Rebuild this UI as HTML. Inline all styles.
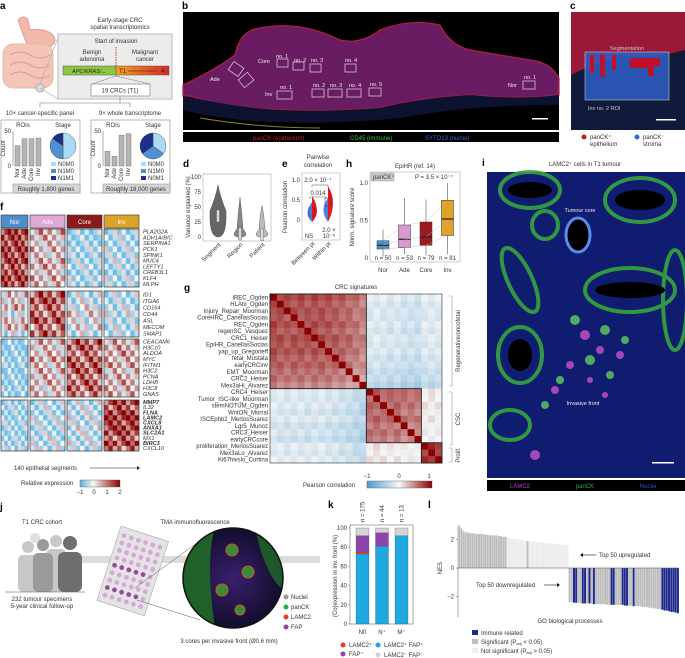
<!DOCTYPE html>
<html><head><meta charset="utf-8">
<style>
html,body{margin:0;padding:0;background:#fff;}
svg{display:block;font-family:"Liberation Sans",Arial,sans-serif;}
.t{font-size:6px;fill:#333}
.lbl{font-size:10px;font-weight:bold;fill:#000}
.g{font-size:5.6px;font-style:italic;fill:#333}
</style></head>
<body>
<svg id="fig" width="685" height="658" viewBox="0 0 685 658">
<defs>
<linearGradient id="tgrad" x1="0" x2="1"><stop offset="0" stop-color="#f7a21b"/><stop offset="1" stop-color="#d7262b"/></linearGradient>
<linearGradient id="cb" x1="0" x2="1"><stop offset="0" stop-color="#4a9bd0"/><stop offset="0.5" stop-color="#f7f7f7"/><stop offset="1" stop-color="#8b0000"/></linearGradient>
<linearGradient id="cbf" x1="0" x2="1"><stop offset="0" stop-color="#5fb0de"/><stop offset="0.33" stop-color="#f5f5f5"/><stop offset="1" stop-color="#8b0000"/></linearGradient>
<radialGradient id="tis" cx="0.5" cy="0.5" r="0.6"><stop offset="0" stop-color="#3a1f6e"/><stop offset="1" stop-color="#0a0a20"/></radialGradient>
<clipPath id="circ"><circle cx="233" cy="578" r="50"/></clipPath>
</defs>

<!-- ===== Panel a ===== -->
<g>
<text class="lbl" x="0" y="9">a</text>
<g>
<path d="M18 20 q6 -6 10 0 l2 10 q14 -2 22 4 q8 10 -6 14 q-14 2 -20 -6 z" fill="#f2b9a9" stroke="#d99"/>
<rect x="3" y="44" width="50" height="44" rx="10" fill="#f5c6b8" stroke="#dba"/>
<path d="M10 55 q10 -6 20 0 t20 0 M10 65 q10 -6 20 0 t20 0 M10 75 q10 -6 20 0 t20 0" stroke="#d9968a" fill="none"/>
<circle cx="40" cy="88" r="4" fill="#ddd" stroke="#aaa"/>
</g>
<text class="t" x="120" y="22" text-anchor="middle">Early-stage CRC</text>
<text class="t" x="120" y="29" text-anchor="middle">spatial transcriptomics</text>
<rect x="58" y="34" width="114" height="65" fill="#ececec" stroke="#bbb"/>
<line x1="40" y1="88" x2="58" y2="99" stroke="#aaa" stroke-width="0.6"/>
<line x1="40" y1="84" x2="58" y2="38" stroke="#aaa" stroke-width="0.6"/>
<text class="t" x="116" y="43" text-anchor="middle">Start of invasion</text>
<line x1="116" y1="47" x2="116" y2="66" stroke="#e33" stroke-dasharray="1.5,1"/>
<text class="t" x="92" y="54" text-anchor="middle">Benign</text>
<text class="t" x="92" y="61" text-anchor="middle">adenoma</text>
<text class="t" x="145" y="54" text-anchor="middle">Malignant</text>
<text class="t" x="145" y="61" text-anchor="middle">cancer</text>
<rect x="63" y="66" width="53" height="9" fill="#8dc63f" stroke="#555" stroke-width="0.5"/>
<text x="89" y="73" font-size="5.5" font-style="italic" text-anchor="middle" fill="#222">APC/KRAS/...</text>
<rect x="116" y="66" width="53" height="9" fill="url(#tgrad)" stroke="#555" stroke-width="0.5"/>
<text x="119" y="73" font-size="6" fill="#222">T1</text>
<line x1="128" y1="71" x2="157" y2="71" stroke="#222" stroke-width="0.6"/>
<text x="161" y="73" font-size="6" fill="#222">4</text>
<line x1="116" y1="76" x2="92" y2="84" stroke="#333" stroke-dasharray="1.5,1" stroke-width="0.5"/>
<line x1="116" y1="76" x2="150" y2="84" stroke="#333" stroke-dasharray="1.5,1" stroke-width="0.5"/>
<rect x="91" y="84" width="59" height="12" fill="#fff" stroke="#777" stroke-width="0.6"/>
<text class="t" x="120" y="92.5" text-anchor="middle">19 CRCs (T1)</text>
<path d="M120 96 V103 M40 107 V103 H130 V107" stroke="#777" fill="none" stroke-width="0.6"/>
<text class="t" x="40" y="115" text-anchor="middle">10× cancer-specific panel</text>
<text class="t" x="130" y="115" text-anchor="middle">9× whole transcriptome</text>
<rect x="1" y="120" width="79" height="73" fill="#fff" stroke="#888" stroke-width="0.6"/>
<rect x="13" y="184" width="67" height="9" fill="#d6d6d6" stroke="#888" stroke-width="0.5"/>
<text class="t" x="46" y="191" text-anchor="middle">Roughly 1,800 genes</text>
<rect x="91" y="120" width="79" height="73" fill="#fff" stroke="#888" stroke-width="0.6"/>
<rect x="103" y="184" width="67" height="9" fill="#d6d6d6" stroke="#888" stroke-width="0.5"/>
<text class="t" x="136" y="191" text-anchor="middle">Roughly 18,000 genes</text>
<g id="aBars"></g>
</g>

<!-- ===== Panel b ===== -->
<g>
<text class="lbl" x="182" y="9">b</text>
<rect x="183" y="12" width="376" height="118" fill="#000"/>
<path d="M183 85 Q215 70 235 55 Q240 30 260 28 Q300 20 340 40 Q360 45 380 30 Q410 18 440 25 Q450 45 470 50 Q500 55 530 60 Q550 62 559 78 L559 95 Q520 100 470 95 Q420 98 380 108 Q330 112 280 110 Q240 108 200 100 Q190 95 183 96 Z" fill="#6a1c62" stroke="#b02040" stroke-width="1.2"/>
<path d="M183 96 Q240 108 280 110 Q330 112 380 108 Q420 98 470 95 Q520 100 559 95 L559 105 Q470 105 400 118 Q320 126 240 120 Q200 115 183 110 Z" fill="#0c1230"/>
<path d="M200 118 Q260 128 320 128" stroke="#8a8a20" stroke-width="1" fill="none"/>
<g stroke="#ddd" stroke-width="0.7" fill="none">
<rect x="277" y="59" width="11" height="8"/><rect x="293" y="62" width="11" height="8"/><rect x="310" y="64" width="11" height="8"/><rect x="345" y="64" width="11" height="8"/>
<rect x="277" y="91" width="15" height="8"/><rect x="312" y="89" width="12" height="8"/><rect x="328" y="89" width="14" height="8"/><rect x="347" y="89" width="14" height="8"/><rect x="369" y="88" width="12" height="8"/>
<rect x="523" y="81" width="12" height="8"/>
<rect x="230" y="64" width="12" height="10" transform="rotate(35 236 69)"/>
<rect x="240" y="75" width="12" height="10" transform="rotate(-40 246 80)"/>
</g>
<g font-size="5.5" fill="#eee">
<text x="258" y="63">Core</text><text x="276" y="58">no. 1</text><text x="294" y="62">no. 2</text><text x="311" y="62">no. 3</text><text x="345" y="62">no. 4</text>
<text x="210" y="81">Ade</text><text x="265" y="96">Inv</text><text x="280" y="89">no. 1</text><text x="313" y="87">no. 2</text><text x="330" y="87">no. 3</text><text x="349" y="87">no. 4</text><text x="370" y="86">no. 5</text>
<text x="508" y="87">Nor</text><text x="524" y="79">no. 1</text>
</g>
<rect x="532" y="118" width="16" height="1.5" fill="#fff"/>
<rect x="183" y="132" width="376" height="10" fill="#000"/>
<text x="253" y="140" font-size="6" fill="#d01c1c">panCK (epithelium)</text>
<text x="350" y="140" font-size="6" fill="#3fbf3f">CD45 (immune)</text>
<text x="425" y="140" font-size="6" fill="#3b6bd6">SYTO13 (nuclei)</text>
</g>

<!-- ===== Panel c ===== -->
<g>
<text class="lbl" x="570" y="9">c</text>
<rect x="571" y="12" width="114" height="118" fill="#101a3a"/>
<path d="M571 12 H685 V50 Q650 60 620 55 Q590 65 571 75 Z" fill="#9a1838"/>
<rect x="585" y="52" width="84" height="48" fill="#2f5fc8" opacity="0.85" stroke="#ddd" stroke-width="0.6"/>
<path d="M590 55 h4 v18 h-4z M600 55 h5 v22 h-5z M612 55 h4 v15 h-4z M630 58 h30 v8 h-6 v10 h-6 v-8 h-18z M640 58 h3 v6" fill="#c0102a"/>
<text x="627" y="50" font-size="5.5" fill="#ccc" text-anchor="middle">Segmentation</text>
<text x="588" y="110" font-size="5.5" fill="#ccc">Inv no. 2 ROI</text>
<rect x="656" y="119" width="20" height="1.5" fill="#fff"/>
<circle cx="584" cy="137" r="2.5" fill="#d01c1c"/><text class="t" x="590" y="139">panCK⁺</text><text class="t" x="590" y="146">epithelium</text>
<circle cx="637" cy="137" r="2.5" fill="#2f6ce0"/><text class="t" x="643" y="139">panCK⁻</text><text class="t" x="643" y="146">stroma</text>
</g>

<!-- ===== Panel d, e, h ===== -->
<g id="panelD">
<text class="lbl" x="183" y="167">d</text>
</g>
<g id="panelE">
<text class="lbl" x="282" y="167">e</text>
<text class="t" x="318" y="159" text-anchor="middle">Pairwise</text>
<text class="t" x="318" y="167" text-anchor="middle">correlation</text>
</g>
<g id="panelH">
<text class="lbl" x="346" y="167">h</text>
<text class="t" x="415" y="168" text-anchor="middle">EpiHR (ref. 14)</text>
</g>

<!-- ===== Panel f ===== -->
<g id="panelF">
<text class="lbl" x="0" y="210">f</text>
<text class="t" x="14" y="470">140 epithelial segments</text>
<line x1="90" y1="468" x2="137" y2="468" stroke="#222" stroke-width="0.6"/><path d="M137 466 l3 2 l-3 2z" fill="#222"/>
<text class="t" x="21" y="485">Relative expression</text>
<rect x="80" y="480" width="40" height="7" fill="url(#cbf)" stroke="#555" stroke-width="0.4"/>
<text class="t" x="80" y="494" text-anchor="middle">−1</text><text class="t" x="94" y="494" text-anchor="middle">0</text><text class="t" x="107" y="494" text-anchor="middle">1</text><text class="t" x="120" y="494" text-anchor="middle">2</text>
</g>

<!-- ===== Panel g ===== -->
<g id="panelG">
<text class="lbl" x="184" y="291">g</text>
<text class="t" x="356" y="289" text-anchor="middle">CRC signatures</text>
<text class="t" x="303" y="487">Pearson correlation</text>
<rect x="367" y="481" width="65" height="7" fill="url(#cb)" stroke="#555" stroke-width="0.4"/>
<text class="t" x="367" y="478" text-anchor="middle">−1</text><text class="t" x="399" y="478" text-anchor="middle">0</text><text class="t" x="429" y="478" text-anchor="middle">1</text>
<path d="M449 296 h3 V386 h-3 M449 392 h3 V445 h-3 M449 448 h3 V462 h-3" stroke="#999" fill="none" stroke-width="0.6"/>
<text class="t" transform="translate(460 341) rotate(-90)" text-anchor="middle">Regenerative/oncofetal</text>
<text class="t" transform="translate(460 419) rotate(-90)" text-anchor="middle">CSC</text>
<text class="t" transform="translate(460 455) rotate(-90)" text-anchor="middle">Prolif.</text>
</g>

<!-- ===== Panel i ===== -->
<g>
<text class="lbl" x="482" y="166">i</text>
<text class="t" x="585" y="166" text-anchor="middle">LAMC2⁺ cells in T1 tumour</text>
<rect x="487" y="172" width="198" height="306" fill="#0f1c70"/>
<g fill="none" stroke="#36a53e" stroke-width="4" opacity="0.9">
<ellipse cx="530" cy="190" rx="30" ry="18"/><ellipse cx="640" cy="200" rx="35" ry="22"/><ellipse cx="545" cy="225" rx="13" ry="14"/>
<ellipse cx="520" cy="280" rx="12" ry="35" transform="rotate(-25 520 280)"/><ellipse cx="630" cy="290" rx="45" ry="22"/>
<ellipse cx="520" cy="355" rx="22" ry="28"/><ellipse cx="675" cy="300" rx="12" ry="50"/><ellipse cx="510" cy="425" rx="20" ry="15"/>
</g>
<ellipse cx="578" cy="235" rx="12" ry="17" fill="#000" stroke="#5a8cf0" stroke-width="3"/>
<g fill="#000"><ellipse cx="530" cy="190" rx="22" ry="8"/><ellipse cx="640" cy="200" rx="25" ry="10"/><ellipse cx="630" cy="290" rx="35" ry="8"/><ellipse cx="520" cy="355" rx="12" ry="16"/></g>
<g fill="#c050c0" opacity="0.85">
<circle cx="585" cy="335" r="5"/><circle cx="600" cy="350" r="4"/><circle cx="570" cy="365" r="4"/><circle cx="555" cy="390" r="4"/><circle cx="590" cy="380" r="3"/><circle cx="620" cy="355" r="4"/><circle cx="535" cy="455" r="5"/><circle cx="605" cy="395" r="3"/>
</g>
<g fill="#5fcf5f" opacity="0.8">
<circle cx="575" cy="320" r="5"/><circle cx="605" cy="330" r="5"/><circle cx="625" cy="340" r="4"/><circle cx="590" cy="360" r="5"/><circle cx="560" cy="380" r="4"/><circle cx="610" cy="375" r="4"/><circle cx="545" cy="405" r="4"/>
</g>
<text x="580" y="212" font-size="5.5" fill="#eee" text-anchor="middle">Tumour core</text>
<text x="583" y="405" font-size="5.5" fill="#eee" text-anchor="middle">Invasive front</text>
<rect x="652" y="462" width="22" height="1.5" fill="#fff"/>
<rect x="487" y="480" width="198" height="11" fill="#000"/>
<text x="520" y="488" font-size="6" fill="#c040c0" text-anchor="middle">LAMC2</text>
<text x="585" y="488" font-size="6" fill="#30b050" text-anchor="middle">panCK</text>
<text x="648" y="488" font-size="6" fill="#3050c0" text-anchor="middle">Nuclei</text>
</g>

<!-- ===== Panel j ===== -->
<g>
<text class="lbl" x="0" y="510">j</text>
<text class="t" x="42" y="524" text-anchor="middle">T1 CRC cohort</text>
<text class="t" x="195" y="524" text-anchor="middle">TMA immunofluorescence</text>
<rect x="80" y="556" width="240" height="7" fill="#dcdcdc"/>
<g>
<g fill="#c8c8c8"><circle cx="28" cy="547" r="6"/><rect x="18" y="555" width="20" height="37" rx="5"/><circle cx="56" cy="541" r="6"/><rect x="46" y="549" width="20" height="43" rx="5"/></g>
<g fill="#e0e0e0"><circle cx="35" cy="538" r="5"/></g>
<g fill="#9a9a9a"><circle cx="43" cy="545" r="6"/><rect x="33" y="553" width="20" height="39" rx="5"/></g>
<g fill="#6e6e6e"><circle cx="70" cy="543" r="7"/><rect x="58" y="552" width="24" height="40" rx="6"/></g>
<line x1="5" y1="592" x2="85" y2="592" stroke="#555" stroke-width="0.6"/>
</g>
<text class="t" x="42" y="601" text-anchor="middle">232 tumour specimens</text>
<text class="t" x="42" y="608" text-anchor="middle">5-year clinical follow-up</text>
<g transform="rotate(18 133 570)">
<rect x="108" y="532" width="50" height="78" fill="#e4e4e4" stroke="#999" stroke-width="0.5"/>
<g id="tmaDots"></g>
</g>
<line x1="135" y1="588" x2="197" y2="543" stroke="#555" stroke-width="0.5"/>
<line x1="137" y1="600" x2="200" y2="620" stroke="#555" stroke-width="0.5"/>
<g clip-path="url(#circ)">
<rect x="183" y="528" width="100" height="100" fill="url(#tis)"/>
<path d="M183 528 H215 Q205 560 215 628 H183 Z" fill="#1f6a28" opacity="0.9"/>
<path d="M255 528 H283 V590 Q265 575 255 528Z" fill="#1f6a28" opacity="0.8"/>
<g fill="#3a8a3a" stroke="#d05a20" stroke-width="1"><circle cx="232" cy="550" r="6"/><circle cx="248" cy="572" r="6"/><circle cx="222" cy="590" r="6"/><circle cx="240" cy="610" r="5"/></g>
</g>
<circle cx="233" cy="578" r="50" fill="none" stroke="#111" stroke-width="1.5"/>
<text class="t" x="229" y="643" text-anchor="middle">3 cores per invasive front (Ø0.6 mm)</text>
<circle cx="286" cy="597" r="2.5" fill="#999"/><text class="t" x="291" y="599">Nuclei</text>
<circle cx="286" cy="607" r="2.5" fill="#22b34a"/><text class="t" x="291" y="609">panCK</text>
<circle cx="286" cy="617" r="2.5" fill="#e8392b"/><text class="t" x="291" y="619">LAMC2</text>
<circle cx="286" cy="627" r="2.5" fill="#8e44ad"/><text class="t" x="291" y="629">FAP</text>
</g>

<!-- ===== Panel k ===== -->
<g id="panelK">
<text class="lbl" x="328" y="508">k</text>
<circle cx="343" cy="645" r="2.5" fill="#e8392b"/><text class="t" x="349" y="647">LAMC2⁺</text>
<circle cx="343" cy="654" r="2.5" fill="#8e44ad"/><text class="t" x="349" y="656">FAP⁺</text>
<circle cx="378" cy="645" r="2.5" fill="#1fa8e0"/><text class="t" x="384" y="647">LAMC2⁺ FAP⁺</text>
<circle cx="378" cy="655" r="2.5" fill="#d4d4d4"/><text class="t" x="384" y="657">LAMC2⁻ FAP⁻</text>
</g>

<!-- ===== Panel l ===== -->
<g id="panelL">
<text class="lbl" x="428" y="508">l</text>
<text class="t" transform="translate(442 568) rotate(-90)" text-anchor="middle">NES</text>
<text class="t" x="599" y="557">Top 50 upregulated</text>
<line x1="583" y1="555" x2="596" y2="555" stroke="#111" stroke-width="0.6"/><path d="M583 553 l-3 2 l3 2z" fill="#111"/>
<text class="t" x="476" y="587">Top 50 downregulated</text>
<line x1="544" y1="585" x2="557" y2="585" stroke="#111" stroke-width="0.6"/><path d="M557 583 l3 2 l-3 2z" fill="#111"/>
<text class="t" x="570" y="623" text-anchor="middle">GO biological processes</text>
<rect x="472" y="630" width="6" height="5" fill="#1f2a8c"/><text class="t" x="481" y="635">Immune related</text>
<rect x="472" y="639" width="6" height="5" fill="#bdbdbd"/><text class="t" x="481" y="644">Significant (P<tspan font-size="4" dy="1">adj</tspan><tspan dy="-1"> &lt; 0.05)</tspan></text>
<rect x="472" y="648" width="6" height="5" fill="#eeeeee"/><text class="t" x="481" y="653">Not significant (P<tspan font-size="4" dy="1">adj</tspan><tspan dy="-1"> &gt; 0.05)</tspan></text>
</g>
</svg>

<script>
const NS='http://www.w3.org/2000/svg';
function mk(parent,tag,attrs,txt){const e=document.createElementNS(NS,tag);for(const k in attrs)e.setAttribute(k,attrs[k]);if(txt!==undefined)e.textContent=txt;parent.appendChild(e);return e;}

/* ---------- panel a data ---------- */
const aCats=['Nor','Ade','Core','Inv'];
const aLeftCounts=[29,39,39,40];
const aRightCounts=[21,14,44,46];
const aLeftStage=[50,35,15];
const aRightStage=[35,30,35];
const aStageLabels=[['N0M0','N1M0','N1M1'],['N0M0','N1M0','N0M1']];
const pieColors=['#a8dcf5','#4f8fd3','#1e2f8a'];
(function(){
 const g=document.getElementById('aBars');
 function sub(x0,counts,stage,labels){
  const base=166,top=131,yS=v=>base-(v/50)*(base-top);
  mk(g,'text',{class:'t',x:x0+22,y:127,'text-anchor':'middle'},'ROIs');
  mk(g,'text',{class:'t',x:x0+62,y:127,'text-anchor':'middle'},'Stage');
  mk(g,'line',{x1:x0+12,y1:top,x2:x0+12,y2:base,stroke:'#555','stroke-width':0.5});
  mk(g,'text',{class:'t',x:x0+10,y:top+2,'text-anchor':'end'},'50');
  mk(g,'text',{class:'t',x:x0+10,y:base+2,'text-anchor':'end'},'0');
  mk(g,'text',{class:'t',transform:`translate(${x0+4} ${(top+base)/2}) rotate(-90)`,'text-anchor':'middle'},'Count');
  counts.forEach((c,i)=>{
   const r=mk(g,'rect',{x:x0+14+i*7,y:yS(c),width:5,height:base-yS(c),fill:'#b5b5b5',stroke:'#666','stroke-width':0.4});
   
   
   mk(g,'text',{class:'t',transform:`translate(${x0+18+i*7} ${base+2}) rotate(-90)`,'text-anchor':'end'},aCats[i]);
  });
  let a0=-Math.PI/2;const cx=x0+62,cy=146,R=13,tot=stage.reduce((s,v)=>s+v,0);
  stage.forEach((v,i)=>{const a1=a0+v/tot*2*Math.PI;
   const p=mk(g,'path',{d:`M${cx} ${cy} L${cx+R*Math.cos(a0)} ${cy+R*Math.sin(a0)} A${R} ${R} 0 ${a1-a0>Math.PI?1:0} 1 ${cx+R*Math.cos(a1)} ${cy+R*Math.sin(a1)} Z`,fill:pieColors[i],stroke:'#444','stroke-width':0.4});
   
   
   a0=a1;
   mk(g,'rect',{x:x0+50,y:162+i*7,width:5,height:4,fill:pieColors[i]});
   mk(g,'text',{class:'t',x:x0+57,y:166+i*7},labels[i]);
  });
 }
 sub(1,aLeftCounts,aLeftStage,aStageLabels[0]);
 sub(91,aRightCounts,aRightStage,aStageLabels[1]);
})();

/* ---------- TMA dots ---------- */
(function(){const g=document.getElementById('tmaDots');
 for(let r=0;r<9;r++)for(let c=0;c<6;c++){const d=mk(g,'circle',{cx:114+c*7.5,cy:540+r*7.8,r:2.4,fill:(r==4||r==7)&&c<5?'#9b4a9b':'#d8a6d8'});
  
  }
})();

/* ---------- panel d ---------- */
const dCats=['Segment','Region','Patient'];
const dMedians=[35,5,4];
const dMax=[87,66,52];
(function(){const g=document.getElementById('panelD');
 const x0=203,x1=271,y0=241,yT=174,yS=v=>237-(v/100)*(237-177);
 mk(g,'rect',{x:x0,y:yT,width:x1-x0,height:y0-yT,fill:'none',stroke:'#999','stroke-width':0.5});
 [0,25,50,75,100].forEach(t=>mk(g,'text',{class:'t',x:x0-2,y:yS(t)+2,'text-anchor':'end'},t));
 mk(g,'text',{class:'t',transform:`translate(190 207) rotate(-90)`,'text-anchor':'middle'},'Variance explained (%)');
 dCats.forEach((c,i)=>{const cx=218+i*22,m=yS(dMedians[i]),top=yS(dMax[i]),b=yS(0);
  const w=i==0?9:10;
  const p=mk(g,'path',{d:`M${cx} ${top} Q${cx+2} ${m-20} ${cx+(i==0?8:3)} ${m-5} Q${cx+w} ${b} ${cx} ${b} Q${cx-w} ${b} ${cx-(i==0?8:3)} ${m-5} Q${cx-2} ${m-20} ${cx} ${top}Z`,fill:i==0?'#666':(i==1?'#888':'#bbb'),stroke:'#444','stroke-width':0.4});
  
  
  mk(g,'rect',{x:cx-1.5,y:m-6,width:3,height:12,fill:'#ddd',stroke:'#333','stroke-width':0.3});
  mk(g,'text',{class:'t',transform:`translate(${cx+3} ${y0+4}) rotate(-45)`,'text-anchor':'end'},c);
 });
})();

/* ---------- panel e ---------- */
const eCats=['Between pt','Within pt'];
const eMedBlue=[0.15,0.25];
const eMedRed=[0.2,0.45];
(function(){const g=document.getElementById('panelE');
 const x0=302,x1=340,yT=173,yB=240,yS=v=>220-v*40;
 mk(g,'rect',{x:x0,y:yT,width:x1-x0,height:yB-yT,fill:'none',stroke:'#999','stroke-width':0.5});
 [[0,'0'],[0.5,'0.5'],[1,'1.0']].forEach(t=>mk(g,'text',{class:'t',x:x0-2,y:yS(t[0])+2,'text-anchor':'end'},t[1]));
 mk(g,'text',{class:'t',transform:`translate(287 207) rotate(-90)`,'text-anchor':'middle'},'Pearson correlation');
 eCats.forEach((c,i)=>{const cx=312+i*16;
  const pb=mk(g,'path',{d:`M${cx} ${yS(eMedBlue[i]+0.3)} Q${cx-9} ${yS(eMedBlue[i])} ${cx} ${yS(-0.05)}Z`,fill:'#4a7fe0'});
  
  
  const pr=mk(g,'path',{d:`M${cx} ${yS(eMedRed[i]+0.4)} Q${cx+10} ${yS(eMedRed[i])} ${cx} ${yS(-0.05)}Z`,fill:'#e8141e'});
  
  
  mk(g,'rect',{x:cx-3,y:yS(eMedRed[i]+0.1),width:6,height:yS(0)-yS(0.2),fill:'none',stroke:'#333','stroke-width':0.4});
  mk(g,'text',{class:'t',transform:`translate(${cx+3} ${yB+4}) rotate(-45)`,'text-anchor':'end'},c);
 });
 mk(g,'text',{class:'t',x:309,y:238,'text-anchor':'middle'},'NS');
 mk(g,'text',{class:'t',x:329,y:232,'text-anchor':'middle'},'2.0 ×');
 mk(g,'text',{class:'t',x:329,y:238,'text-anchor':'middle'},'10⁻⁵');
 mk(g,'text',{class:'t',x:318,y:182,'text-anchor':'middle'},'2.0 × 10⁻⁷');
 mk(g,'path',{d:'M312 187 V185 H328 V187',fill:'none',stroke:'#333','stroke-width':0.4});
 mk(g,'text',{class:'t',x:318,y:195,'text-anchor':'middle'},'0.014');
 mk(g,'path',{d:'M310 199 V197 H326 V199',fill:'none',stroke:'#333','stroke-width':0.4});
})();

/* ---------- panel h ---------- */
const hCats=['Nor','Ade','Core','Inv'];
const hN=[50,53,79,81];
const hQ1=[0.12,0.14,0.17,0.3];
const hMed=[0.17,0.25,0.28,0.52];
const hQ3=[0.23,0.44,0.48,0.77];
const hMin=[0.02,0.05,0.03,0.05];
const hMax=[0.38,0.8,0.78,1.0];
const hColors=['#4f8fc7','#d99ad0','#9c1b20','#e0a32a'];
(function(){const g=document.getElementById('panelH');
 const x0=370,x1=460,yT=172,yB=262,yS=v=>258-v*75;
 mk(g,'rect',{x:x0,y:yT,width:x1-x0,height:yB-yT,fill:'none',stroke:'#999','stroke-width':0.5});
 [[0,'0'],[0.5,'0.5'],[1,'1.0']].forEach(t=>mk(g,'text',{class:'t',x:x0-2,y:yS(t[0])+2,'text-anchor':'end'},t[1]));
 mk(g,'text',{class:'t',transform:`translate(354 217) rotate(-90)`,'text-anchor':'middle'},'Norm. signature score');
 mk(g,'rect',{x:371,y:173,width:23,height:8,fill:'#ccc',stroke:'#888','stroke-width':0.4});
 mk(g,'text',{class:'t',x:373,y:179},'panCK⁺');
 mk(g,'text',{class:'t',x:415,y:179},'P = 3.5 × 10⁻⁷');
 hCats.forEach((c,i)=>{const cx=383+i*21.5;
  mk(g,'line',{x1:cx,y1:yS(hMin[i]),x2:cx,y2:yS(hMax[i]),stroke:'#333','stroke-width':0.5});
  const b=mk(g,'rect',{x:cx-6,y:yS(hQ3[i]),width:12,height:yS(hQ1[i])-yS(hQ3[i]),fill:hColors[i],stroke:'#333','stroke-width':0.5});
  
  
  mk(g,'line',{x1:cx-6,y1:yS(hMed[i]),x2:cx+6,y2:yS(hMed[i]),stroke:'#222','stroke-width':1.2});
  mk(g,'text',{class:'t',x:cx,y:yB-2,'text-anchor':'middle'},'n = '+hN[i]);
  mk(g,'text',{class:'t',x:cx,y:yB+10,'text-anchor':'middle'},c);
  if(i<3){const cx2=cx+21.5;mk(g,'line',{x1:cx,y1:yS(hMed[i]),x2:cx2,y2:yS(hMed[i+1]),stroke:'#bbb','stroke-width':0.4});
   mk(g,'line',{x1:cx,y1:yS(hQ3[i]),x2:cx2,y2:yS(hQ3[i+1]),stroke:'#bbb','stroke-width':0.4});
   mk(g,'line',{x1:cx,y1:yS(hQ1[i]),x2:cx2,y2:yS(hQ1[i+1]),stroke:'#bbb','stroke-width':0.4});}
 });
})();

/* ---------- panel f heatmap ---------- */
const fGroups=['Nor','Ade','Core','Inv'];
const fGroupColors=['#4f8fc7','#e0a8d8','#8b1a1a','#d9a528'];
const fBlock1=['PLA2G2A','ADH1A/B/C','SERPINA1','PCK1','SPINK1','MUC4','LEFTY1','CREB3L1','KLF4','MLPH'];
const fBlock2=['ID1','ITGA6','CD164','CD44','ASL','MECOM','SMAP1'];
const fBlock3=['CEACAM6','H3C10','ALDOA','MYC','IFITM1','H3C2','PCNA','LDHB','H3C8','GNAS'];
const fBlock4=['MMP7','IL32','FLNA','LAMC2','CXCL8','ANXA1','SLC2A1','MX1','BIRC3','CXCL10'];
const fBold=['MMP7','FLNA','LAMC2','CXCL8','ANXA1','SLC2A1','BIRC3'];
const fMean1=[[1.6,0.6,-0.6,-0.5],[1.5,0.5,-0.7,-0.4],[1.4,0.3,-0.6,-0.5],[1.5,0.4,-0.5,-0.4],[1.3,0.2,-0.6,-0.5],[1.6,0.5,-0.5,-0.3],[1.2,0.6,-0.4,-0.5],[1.4,0.3,-0.6,-0.6],[1.5,0.5,-0.5,-0.4],[1.3,0.4,-0.6,-0.5]];
const fMean2=[[0.4,1.2,-0.3,-0.4],[0.2,1.4,-0.2,-0.5],[0.6,1.1,0.0,-0.3],[-0.3,1.0,0.2,-0.2],[0.3,1.3,-0.1,-0.5],[0.5,0.9,0.1,-0.3],[-0.2,1.2,-0.2,-0.4]];
const fMean3=[[-0.8,0.5,1.2,0.5],[-0.9,0.3,1.3,0.6],[-0.7,0.4,1.0,0.7],[-0.8,0.6,1.1,0.4],[-0.6,0.3,1.2,0.6],[-0.9,0.5,1.3,0.3],[-0.7,0.4,1.0,0.5],[-0.8,0.5,1.2,0.6],[-0.6,0.2,1.1,0.4],[-0.8,0.3,0.9,0.5]];
const fMean4=[[-0.6,-0.4,-0.3,1.5],[-0.5,-0.3,-0.2,1.2],[-0.6,-0.5,-0.3,1.6],[-0.7,-0.4,-0.2,1.7],[-0.5,-0.3,-0.4,1.4],[-0.6,-0.4,-0.1,1.6],[-0.7,-0.5,-0.3,1.5],[-0.5,-0.2,-0.3,1.1],[-0.6,-0.4,-0.2,1.5],[-0.4,-0.3,-0.4,1.0]];
function fColor(v){v=Math.max(-1,Math.min(2,v));
 if(v<0){const t=-v;return `rgb(${Math.round(245-t*130)},${Math.round(245-t*55)},${Math.round(245-t*15)})`;}
 const t=v/2;return `rgb(${Math.round(245-t*106)},${Math.round(245-t*245)},${Math.round(245-t*245)})`;}
(function(){const g=document.getElementById('panelF');
 const gx=[1,30,67,104],gw=[27,35,35,35];
 fGroups.forEach((n,i)=>{const r=mk(g,'rect',{x:gx[i],y:215,width:gw[i],height:13,fill:fGroupColors[i],stroke:'#333','stroke-width':0.6});
  
  
  mk(g,'text',{x:gx[i]+gw[i]/2,y:224,'font-size':6,fill:'#fff','text-anchor':'middle'},n);});
 const blocks=[[fBlock1,fMean1,229,287],[fBlock2,fMean2,291,337],[fBlock3,fMean3,339,397],[fBlock4,fMean4,400,451]];
 blocks.forEach(([genes,means,y0,y1])=>{const rh=(y1-y0)/genes.length;
  genes.forEach((gn,r)=>{
   fGroups.forEach((_,c)=>{const nsub=8,sw=gw[c]/nsub;
    for(let s=0;s<nsub;s++){const dv=((s*7+r*3+c*5)%5-2)*0.4;
     const cell=mk(g,'rect',{x:gx[c]+s*sw,y:y0+r*rh,width:sw+0.2,height:rh+0.2,fill:fColor(means[r][c]+dv)});
     
     }
   });
   const t=mk(g,'text',{class:'g',x:143,y:y0+r*rh+rh*0.8},gn);
   if(fBold.includes(gn))t.setAttribute('font-weight','bold');
  });
  fGroups.forEach((_,c)=>mk(g,'rect',{x:gx[c],y:y0,width:gw[c],height:y1-y0,fill:'none',stroke:'#333','stroke-width':0.7}));
 });
})();

/* ---------- panel g correlation ---------- */
const gSigs=['iREC_Ogden','HLAhi_Ogden','Injury_Repair_Moorman','CoreHRC_CanellasSocias','REC_Ogden','regenSC_Vasquez','CRC1_Heiser','EpiHR_CanellasSocias','yap_up_Gregorieff','fetal_Mustata','earlyCRCinv','EMT_Moorman','CRC2_Heiser','Mex3aHi_Alvarez','CRC4_Heiser','Tumor_ISC-like_Moorman','stemNOTUM_Ogden','WntON_Morral','ISCEphb2_MerlosSuarez','Lgr5_Munoz','CRC3_Heiser','earlyCRCcore','proliferation_MerlosSuarez','Mex3aLo_Alvarez','Ki67hivslo_Cortina'];
const gCluster=[0,0,0,0,0,0,0,0,0,0,0,0,0,0,1,1,1,1,1,1,1,1,2,2,2];
const gBetween=[[0.65,-0.15,-0.1],[-0.15,0.6,0.1],[-0.1,0.1,0.85]];
const gRowShift=[0.15,0.1,0.05,0.1,0.1,0.05,0.1,0.1,0.05,0.0,-0.05,-0.1,-0.2,-0.3,0.05,0.1,0.05,0.0,0.05,-0.05,-0.05,-0.1,0.0,0.0,0.0];
function gColor(v){v=Math.max(-1,Math.min(1,v));
 if(v<0){const t=-v;return `rgb(${Math.round(245-t*170)},${Math.round(245-t*90)},${Math.round(245-t*35)})`;}
 return `rgb(${Math.round(245-v*106)},${Math.round(245-v*245)},${Math.round(245-v*245)})`;}
(function(){const g=document.getElementById('panelG');
 const x0=270,y0=294,cw=172/25,ch=169/25;
 gSigs.forEach((s,r)=>{
  const t=mk(g,'text',{class:'t',x:x0-2,y:y0+r*ch+ch*0.8,'text-anchor':'end'},s);
  if(s==='earlyCRCinv')t.setAttribute('fill','#d9a528');
  if(s==='earlyCRCcore')t.setAttribute('fill','#b5202a');
  gSigs.forEach((_,c)=>{
   const v=r===c?1:gBetween[gCluster[r]][gCluster[c]]+(gRowShift[r]+gRowShift[c])*0.5-((r+2*c)%4)*0.05;
   const cell=mk(g,'rect',{x:x0+c*cw,y:y0+r*ch,width:cw+0.2,height:ch+0.2,fill:gColor(v)});
   
   
  });
 });
 mk(g,'rect',{x:x0,y:y0,width:172,height:169,fill:'none',stroke:'#333','stroke-width':0.6});
 [[0,14],[14,22],[22,25]].forEach(([a,b])=>mk(g,'rect',{x:x0+a*cw,y:y0+a*ch,width:(b-a)*cw,height:(b-a)*ch,fill:'none',stroke:'#222','stroke-width':0.9}));
})();

/* ---------- panel k ---------- */
const kCats=['N0','N⁺','M⁺'];
const kN=[175,44,13];
const kBoth=[73,81,92];
const kLamc2=[2,0,0];
const kFap=[17,14,0];
const kNone=[8,5,8];
(function(){const g=document.getElementById('panelK');
 const x0=350,x1=413,yT=528,yB=624,yS=v=>yB-v/100*(yB-yT);
 mk(g,'rect',{x:x0,y:yT-3,width:x1-x0,height:yB-yT+3,fill:'none',stroke:'#555','stroke-width':0.5});
 [0,20,40,60,80,100].forEach(t=>{mk(g,'text',{class:'t',x:x0-3,y:yS(t)+2,'text-anchor':'end'},t);mk(g,'line',{x1:x0-1.5,y1:yS(t),x2:x0,y2:yS(t),stroke:'#555','stroke-width':0.5});});
 mk(g,'text',{class:'t',transform:`translate(337 576) rotate(-90)`,'text-anchor':'middle'},'(Co)expression in inv. front (%)');
 kCats.forEach((c,i)=>{const bx=356+i*19.5,bw=13;let acc=0;
  [[kBoth[i],'#1fa8e0','both'],[kLamc2[i],'#e8392b','lamc2'],[kFap[i],'#8e44ad','fap'],[kNone[i],'#d4d4d4','none']].forEach(([v,col,nm])=>{
   const r=mk(g,'rect',{x:bx,y:yS(acc+v),width:bw,height:yS(acc)-yS(acc+v),fill:col,stroke:'#555','stroke-width':0.3});
   
   
   acc+=v;});
  mk(g,'text',{class:'t',x:bx+bw/2,y:yB+10,'text-anchor':'middle'},c);
  mk(g,'text',{class:'t',transform:`translate(${bx+bw/2+2} 522) rotate(-90)`},'n = '+kN[i]);
 });
})();

/* ---------- panel l ---------- */
const lUp=[3.0,2.8,2.6,2.5,2.5,2.45,2.45,2.45,2.4,2.4,2.4,2.4,2.35,2.35,2.3,2.3,2.3,2.3,2.25,2.25,2.2,2.2,2.15,2.1,2.1,2.05,2.05,2.0,2.0,1.95,1.9,1.9,1.9,1.85,1.85,1.85,1.8,1.8,1.8,1.75,1.75,1.75,1.7,1.7,1.7,1.7,1.65,1.65,1.65,1.6];
const lUpSig=[1,1,1,1,1,1,1,1,1,1,1,1,1,1,1,1,1,1,1,1,1,1,0,0,0,0,0,0,0,0,0,1,0,0,0,0,0,0,0,0,0,0,0,0,0,0,0,0,0,0];
const lDown=[-2.4,-2.4,-2.45,-2.45,-2.45,-2.5,-2.5,-2.5,-2.5,-2.5,-2.5,-2.55,-2.55,-2.55,-2.55,-2.55,-2.55,-2.6,-2.6,-2.6,-2.6,-2.6,-2.6,-2.6,-2.6,-2.65,-2.65,-2.65,-2.65,-2.7,-2.7,-2.7,-2.7,-2.75,-2.75,-2.75,-2.8,-2.8,-2.85,-2.85,-2.9,-2.9,-2.95,-3.0,-3.0,-3.05,-3.1,-3.1,-3.15,-3.2];
const lImmune=[0,0,1,1,0,0,1,1,0,1,0,1,0,0,0,0,0,0,0,1,1,0,0,0,1,1,1,0,0,1,0,0,0,0,0,0,0,0,0,0,0,0,1,1,1,1,1,1,1,1];
(function(){const g=document.getElementById('panelL');
 const x0=458,x1=679,y0=568,yS=v=>y0-v*14.2,bw=(x1-x0)/100;
 mk(g,'line',{x1:x0,y1:526,x2:x0,y2:617,stroke:'#555','stroke-width':0.5});
 [[2,'2'],[0,'0'],[-2,'−2']].forEach(([v,l])=>{mk(g,'text',{class:'t',x:x0-4,y:yS(v)+2,'text-anchor':'end'},l);mk(g,'line',{x1:x0-2,y1:yS(v),x2:x0,y2:yS(v),stroke:'#555','stroke-width':0.5});});
 lUp.forEach((v,i)=>{const r=mk(g,'rect',{x:x0+i*bw,y:yS(v),width:bw,height:y0-yS(v),fill:lUpSig[i]?'#bdbdbd':'#ececec',stroke:'#fff','stroke-width':0.15});
  
  });
 lDown.forEach((v,i)=>{const r=mk(g,'rect',{x:x0+(50+i)*bw,y:y0,width:bw,height:yS(v)-y0,fill:lImmune[i]?'#1f2a8c':'#bdbdbd',stroke:'#fff','stroke-width':0.15});
  
  });
 mk(g,'line',{x1:x0,y1:y0,x2:x1,y2:y0,stroke:'#444','stroke-width':0.6});
})();
</script>
</body></html>
